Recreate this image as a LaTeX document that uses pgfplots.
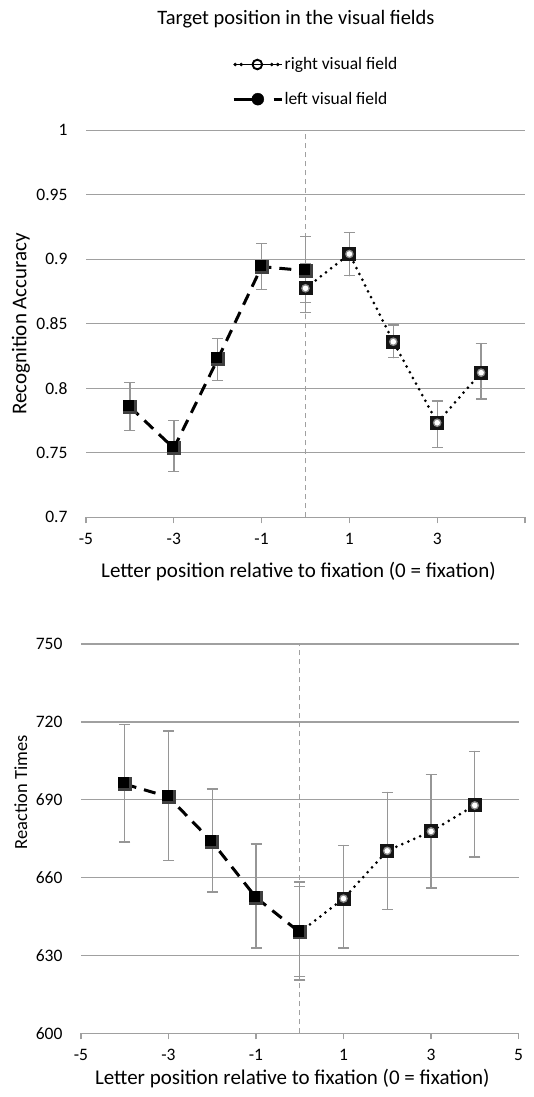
\documentclass[border=0pt]{standalone}
\usepackage{fontspec}
\setmainfont{Carlito}
\usepackage{graphicx}
\usepackage{pgfplots}
\usepackage{pgfplotstable}
\pgfplotsset{compat=1.18}

\definecolor{gridgray}{RGB}{160,160,160}
\definecolor{errgray}{RGB}{150,150,150}

\newcommand\tickfont{\fontsize{17.5}{21}\selectfont}
\newcommand\labelfont{\fontsize{21}{25}\selectfont}
\newcommand\legendfont{\fontsize{17.5}{21}\selectfont}
\newcommand\titlefont{\fontsize{20.5}{24}\selectfont}

% black square marker with a light spot in its middle
\pgfdeclareplotmark{sqring}{%
  \pgfpathrectangle{\pgfqpoint{-\pgfplotmarksize}{-\pgfplotmarksize}}{\pgfqpoint{2\pgfplotmarksize}{2\pgfplotmarksize}}%
  \pgfsetfillcolor{black!92}\pgfusepath{fill}%
  \pgfpathcircle{\pgfpointorigin}{0.62\pgfplotmarksize}%
  \pgfsetfillcolor{black!45}\pgfusepath{fill}%
  \pgfpathcircle{\pgfpointorigin}{0.40\pgfplotmarksize}%
  \pgfsetfillcolor{white}\pgfusepath{fill}%
}
% dark square marker, slightly lighter towards its lower right
\pgfdeclareplotmark{sqdark}{%
  \pgfpathrectangle{\pgfqpoint{-\pgfplotmarksize}{-\pgfplotmarksize}}{\pgfqpoint{2\pgfplotmarksize}{2\pgfplotmarksize}}%
  \pgfsetfillcolor{black!75}\pgfusepath{fill}%
  \pgfpathrectangle{\pgfqpoint{-\pgfplotmarksize}{-0.6\pgfplotmarksize}}{\pgfqpoint{1.6\pgfplotmarksize}{1.6\pgfplotmarksize}}%
  \pgfsetfillcolor{black}\pgfusepath{fill}%
}

% recognition accuracy: x, mean, error plus, error minus
\pgfplotstableread{
x  y      ep     em
-4 0.7857 0.0186 0.0186
-3 0.7535 0.0214 0.0181
-2 0.8225 0.0163 0.0166
-1 0.8943 0.0181 0.0176
0  0.8912 0.0263 0.0248
}\accleft
\pgfplotstableread{
x  y      ep     em
0  0.8775 0.0189 0.0189
1  0.9041 0.0165 0.0168
2  0.8361 0.0130 0.0124
3  0.7733 0.0169 0.0190
4  0.8121 0.0225 0.0204
}\accright

% reaction times: x, mean, error plus, error minus
\pgfplotstableread{
x  y     ep    em
-4 696.0 23.0 22.3
-3 691.1 25.3 24.6
-2 673.7 20.5 19.2
-1 652.3 20.7 19.4
0  638.9 19.4 18.3
}\rtleft
\pgfplotstableread{
x  y     ep    em
0  638.9 17.7 17.0
1  651.9 20.4 19.0
2  670.3 22.5 22.5
3  677.8 21.9 21.8
4  687.8 20.8 19.8
}\rtright

\pgfplotsset{
  panel/.style={
    scale only axis,
    xmin=-5, xmax=5,
    axis line style={draw=none},
    ymajorgrids,
    grid style={gridgray, line width=1.3pt},
    xtick pos=bottom,
    xtick align=outside,
    major tick length=6pt,
    xtick style={gridgray, line width=1.3pt},
    ytick style={draw=none},
    tick label style={font=\tickfont},
    yticklabel style={xshift=-15pt},
    xticklabel style={yshift=-6pt},
    xlabel style={font=\labelfont},
    error bars/y dir=both,
    error bars/y explicit,
    error bars/error bar style={errgray, line width=1.4pt, solid},
    error bars/error mark options={rotate=90, mark size=5.5pt, errgray, line width=1.4pt, solid},
  },
  rightfield/.style={
    black, line width=3pt, line cap=round,
    dash pattern=on 0pt off 6.5pt,
    mark=sqring, mark size=7pt, mark options={solid},
  },
  leftfield/.style={
    black, line width=3pt,
    dash pattern=on 12pt off 8pt,
    mark=sqdark, mark size=7pt, mark options={solid},
  },
  fixline/.style={gridgray, line width=1.3pt, dash pattern=on 5pt off 4pt, forget plot},
}

\begin{document}
\begin{tikzpicture}[x=1pt, y=1pt]
\useasboundingbox (0,0) rectangle (533,1097);

\node[font=\titlefont, anchor=base] at (296,1072) {Target position in the visual fields};

% upper panel: recognition accuracy
\begin{axis}[panel,
  at={(86pt,579.7pt)}, anchor=south west,
  width=439pt, height=387pt,
  ymin=0.7, ymax=1,
  ytick={0.7,0.75,0.8,0.85,0.9,0.95,1},
  yticklabels={0.7,0.75,0.8,0.85,0.9,0.95,1},
  xtick={-5,-3,-1,1,3,5},
  xticklabels={-5,-3,-1,1,3,{}},
  xlabel={Letter position relative to fixation (0 = fixation)},
  ylabel={Recognition Accuracy},
  xlabel style={at={(axis description cs:0.484,-0.140)}, anchor=center},
  ylabel style={at={(axis description cs:-0.1485,0.5)}, anchor=center, font=\labelfont},
  legend style={at={(axis description cs:0.332,1.192)}, anchor=north west,
    draw=none, fill=none, inner sep=0pt, row sep=18pt,
    font=\legendfont,
    nodes={inner sep=1.5pt}},
  legend cell align=left,
]
\addplot[fixline] coordinates {(0,0.7) (0,1)};
\addplot[rightfield, forget plot] table[x=x, y=y, y error plus=ep, y error minus=em] {\accright};
\addplot[leftfield, forget plot] table[x=x, y=y, y error plus=ep, y error minus=em] {\accleft};
\addlegendimage{legend image code/.code={
  \foreach \d in {1.6,7.6,38.3,44.3} {\fill[black] (\d pt,0pt) circle (1.6pt);}
  \draw[black, line width=1.9pt, fill=white] (23.8pt,0pt) circle (4.8pt);
  \path (0pt,0pt) -- (48pt,0pt);
}}
\addlegendentry{right visual field}
\addlegendimage{legend image code/.code={
  \draw[black, line width=3.2pt] (0pt,0pt) -- (22pt,0pt);
  \draw[black, line width=3.2pt] (40pt,0pt) -- (48pt,0pt);
  \fill[black] (24.3pt,0pt) circle (6pt);
}}
\addlegendentry{left visual field}
\end{axis}

% lower panel: reaction times
\begin{axis}[panel,
  at={(81pt,63.7pt)}, anchor=south west,
  width=437.5pt, height=389.3pt,
  ymin=600, ymax=750,
  ytick={600,630,660,690,720,750},
  yticklabels={600,630,660,690,720,750},
  xtick={-5,-3,-1,1,3,5},
  xticklabels={-5,-3,-1,1,3,5},
  xlabel={Letter position relative to fixation (0 = fixation)},
  ylabel={\scalebox{0.88}{\labelfont Reaction Times}},
  xlabel style={at={(axis description cs:0.483,-0.116)}, anchor=center},
  ylabel style={at={(axis description cs:-0.1376,0.619)}, anchor=center, font=\labelfont},
]
\addplot[fixline] coordinates {(0,600) (0,750)};
\addplot[rightfield] table[x=x, y=y, y error plus=ep, y error minus=em] {\rtright};
\addplot[leftfield] table[x=x, y=y, y error plus=ep, y error minus=em] {\rtleft};
\end{axis}
\end{tikzpicture}
\end{document}
